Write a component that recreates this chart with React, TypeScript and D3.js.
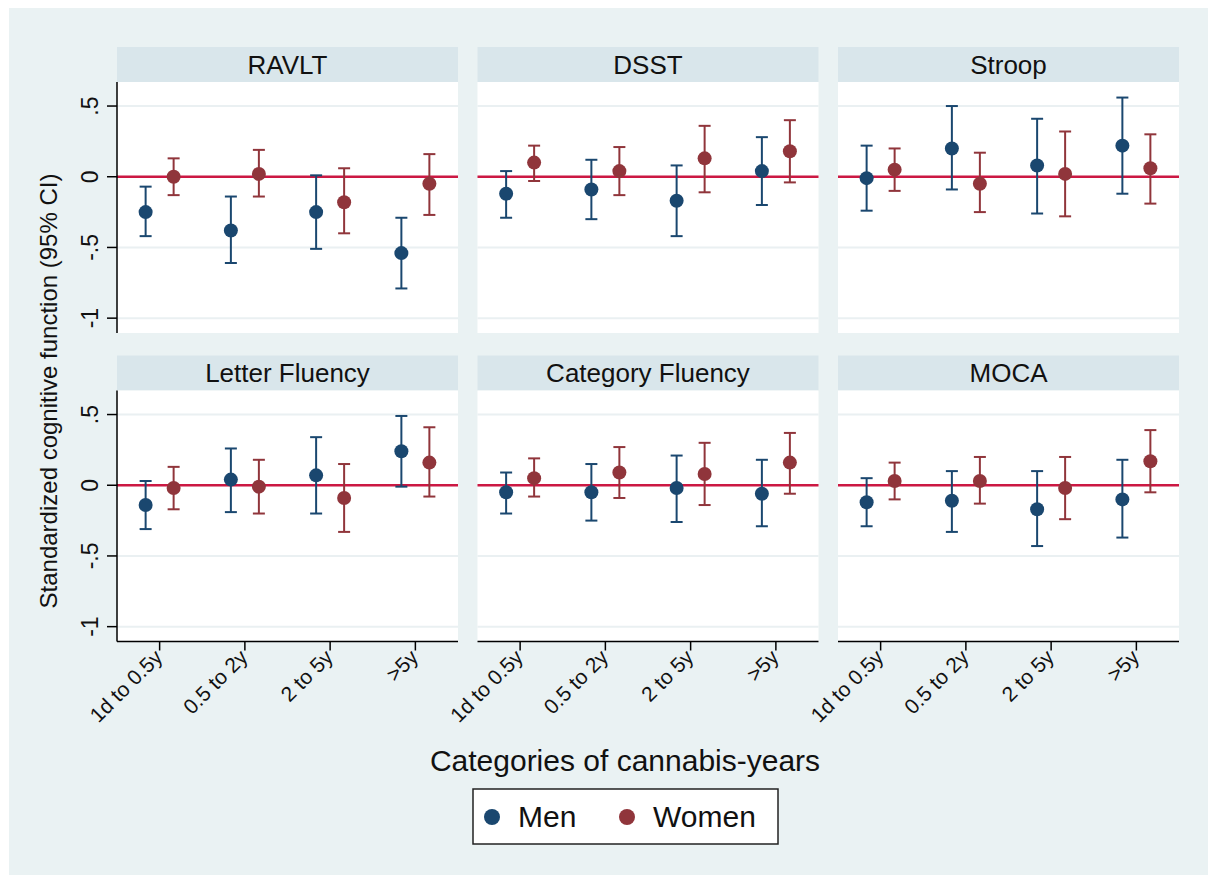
// Small-multiple dot-and-CI plot: cognitive test scores by cannabis-years, men vs women

import React from "react"
import * as d3 from "d3"

const tests = ["RAVLT", "DSST", "Stroop", "Letter Fluency", "Category Fluency", "MOCA"]
const categories = ["1d to 0.5y", "0.5 to 2y", "2 to 5y", ">5y"]
const yTicks = [0.5, 0, -0.5, -1]
const yTickLabels = [".5", "0", "-.5", "-1"]

// one row per test, one value per category
const menEst = [
  [-0.25, -0.38, -0.25, -0.54],
  [-0.12, -0.09, -0.17, 0.04],
  [-0.01, 0.2, 0.08, 0.22],
  [-0.14, 0.04, 0.07, 0.24],
  [-0.05, -0.05, -0.02, -0.06],
  [-0.12, -0.11, -0.17, -0.1],
]
const menLow = [
  [-0.42, -0.61, -0.51, -0.79],
  [-0.29, -0.3, -0.42, -0.2],
  [-0.24, -0.09, -0.26, -0.12],
  [-0.31, -0.19, -0.2, -0.01],
  [-0.2, -0.25, -0.26, -0.29],
  [-0.29, -0.33, -0.43, -0.37],
]
const menHigh = [
  [-0.07, -0.14, 0.01, -0.29],
  [0.04, 0.12, 0.08, 0.28],
  [0.22, 0.5, 0.41, 0.56],
  [0.03, 0.26, 0.34, 0.49],
  [0.09, 0.15, 0.21, 0.18],
  [0.05, 0.1, 0.1, 0.18],
]
const womenEst = [
  [0.0, 0.02, -0.18, -0.05],
  [0.1, 0.04, 0.13, 0.18],
  [0.05, -0.05, 0.02, 0.06],
  [-0.02, -0.01, -0.09, 0.16],
  [0.05, 0.09, 0.08, 0.16],
  [0.03, 0.03, -0.02, 0.17],
]
const womenLow = [
  [-0.13, -0.14, -0.4, -0.27],
  [-0.03, -0.13, -0.11, -0.04],
  [-0.1, -0.25, -0.28, -0.19],
  [-0.17, -0.2, -0.33, -0.08],
  [-0.08, -0.09, -0.14, -0.06],
  [-0.1, -0.13, -0.24, -0.05],
]
const womenHigh = [
  [0.13, 0.19, 0.06, 0.16],
  [0.22, 0.21, 0.36, 0.4],
  [0.2, 0.17, 0.32, 0.3],
  [0.13, 0.18, 0.15, 0.41],
  [0.19, 0.27, 0.3, 0.37],
  [0.16, 0.2, 0.2, 0.39],
]

const W = 1208
const H = 875
const font = "'Liberation Sans', Arial, sans-serif"
const navy = "#1a476f"
const maroon = "#90353b"
const refRed = "#cc1843"

const panelW = 341
const plotH = 251
const stripH = 35
const colX = [117, 477.5, 838]
const rowY = [47, 355.5]

export default function App() {
  const x = d3.scaleBand().domain(categories).range([0, panelW])
  const y = d3.scaleLinear().domain([-1.105, 0.67]).range([plotH, 0])
  const off = 14
  const cap = 6

  const series = [
    { name: "Men", color: navy, est: menEst, lo: menLow, hi: menHigh, dx: -off },
    { name: "Women", color: maroon, est: womenEst, lo: womenLow, hi: womenHigh, dx: off },
  ]

  return (
    <svg width={W} height={H} style={{ position: "absolute", left: 0, top: 0 }} fontFamily={font}>
      <rect x={0} y={0} width={W} height={H} fill="#fff" />
      <rect x={9} y={8} width={W - 9} height={H - 8} fill="#eaf2f3" />

      {tests.map((t, i) => {
        const col = i % 3
        const row = Math.floor(i / 3)
        const px = colX[col]
        const py = rowY[row] + stripH
        return (
          <g key={t}>
            {/* header strip */}
            <rect x={px} y={rowY[row]} width={panelW} height={stripH} fill="#d9e6eb" />
            <text x={px + panelW / 2} y={rowY[row] + stripH / 2 + 9} textAnchor="middle" fontSize={26} fill="#111">
              {t}
            </text>
            <g transform={`translate(${px},${py})`}>
              <rect width={panelW} height={plotH} fill="#fff" />
              {yTicks.map(v => (
                <line key={v} x1={0} x2={panelW} y1={y(v)} y2={y(v)} stroke="#eaf0f2" strokeWidth={2} />
              ))}
              <line x1={0} x2={panelW} y1={y(0)} y2={y(0)} stroke={refRed} strokeWidth={2.5} />

              {series.map(s =>
                categories.map((c, j) => {
                  const cx = (x(c) as number) + x.bandwidth() / 2 + s.dx
                  return (
                    <g key={s.name + c}>
                      <line x1={cx} x2={cx} y1={y(s.lo[i][j])} y2={y(s.hi[i][j])} stroke={s.color} strokeWidth={2} />
                      <line x1={cx - cap} x2={cx + cap} y1={y(s.lo[i][j])} y2={y(s.lo[i][j])} stroke={s.color} strokeWidth={2} />
                      <line x1={cx - cap} x2={cx + cap} y1={y(s.hi[i][j])} y2={y(s.hi[i][j])} stroke={s.color} strokeWidth={2} />
                      <circle cx={cx} cy={y(s.est[i][j])} r={7} fill={s.color} />
                    </g>
                  )
                })
              )}

              {/* y axis on left column */}
              {col === 0 && (
                <g>
                  <line x1={0} x2={0} y1={0} y2={plotH} stroke="#000" strokeWidth={1.5} />
                  {yTicks.map((v, k) => (
                    <g key={v}>
                      <line x1={-10} x2={0} y1={y(v)} y2={y(v)} stroke="#000" strokeWidth={1.5} />
                      <text transform={`translate(-19,${y(v)}) rotate(-90)`} textAnchor="middle" fontSize={23} fill="#111">
                        {yTickLabels[k]}
                      </text>
                    </g>
                  ))}
                </g>
              )}

              {/* x axis on bottom row */}
              {row === 1 && (
                <g>
                  <line x1={0} x2={panelW} y1={plotH} y2={plotH} stroke="#000" strokeWidth={1.5} />
                  {categories.map(c => {
                    const cx = (x(c) as number) + x.bandwidth() / 2
                    return (
                      <g key={c}>
                        <line x1={cx} x2={cx} y1={plotH} y2={plotH + 9} stroke="#000" strokeWidth={1.5} />
                        <text transform={`translate(${cx + 4},${plotH + 17}) rotate(-45)`} textAnchor="end" fontSize={21} fill="#111">
                          {c}
                        </text>
                      </g>
                    )
                  })}
                </g>
              )}
            </g>
          </g>
        )
      })}

      <text transform="translate(57,391) rotate(-90)" textAnchor="middle" fontSize={24} fill="#111">
        Standardized cognitive function (95% CI)
      </text>

      <text x={625} y={771} textAnchor="middle" fontSize={30} fill="#111">
        Categories of cannabis-years
      </text>

      {/* legend */}
      <g>
        <rect x={473} y={789} width={305} height={55} fill="#fff" stroke="#222" strokeWidth={1.5} />
        {series.map((s, k) => {
          const lx = k === 0 ? 492 : 627
          return (
            <g key={s.name}>
              <circle cx={lx} cy={817} r={8} fill={s.color} />
              <text x={lx + 26} y={827} fontSize={30} fill="#111">
                {s.name}
              </text>
            </g>
          )
        })}
      </g>
    </svg>
  )
}
